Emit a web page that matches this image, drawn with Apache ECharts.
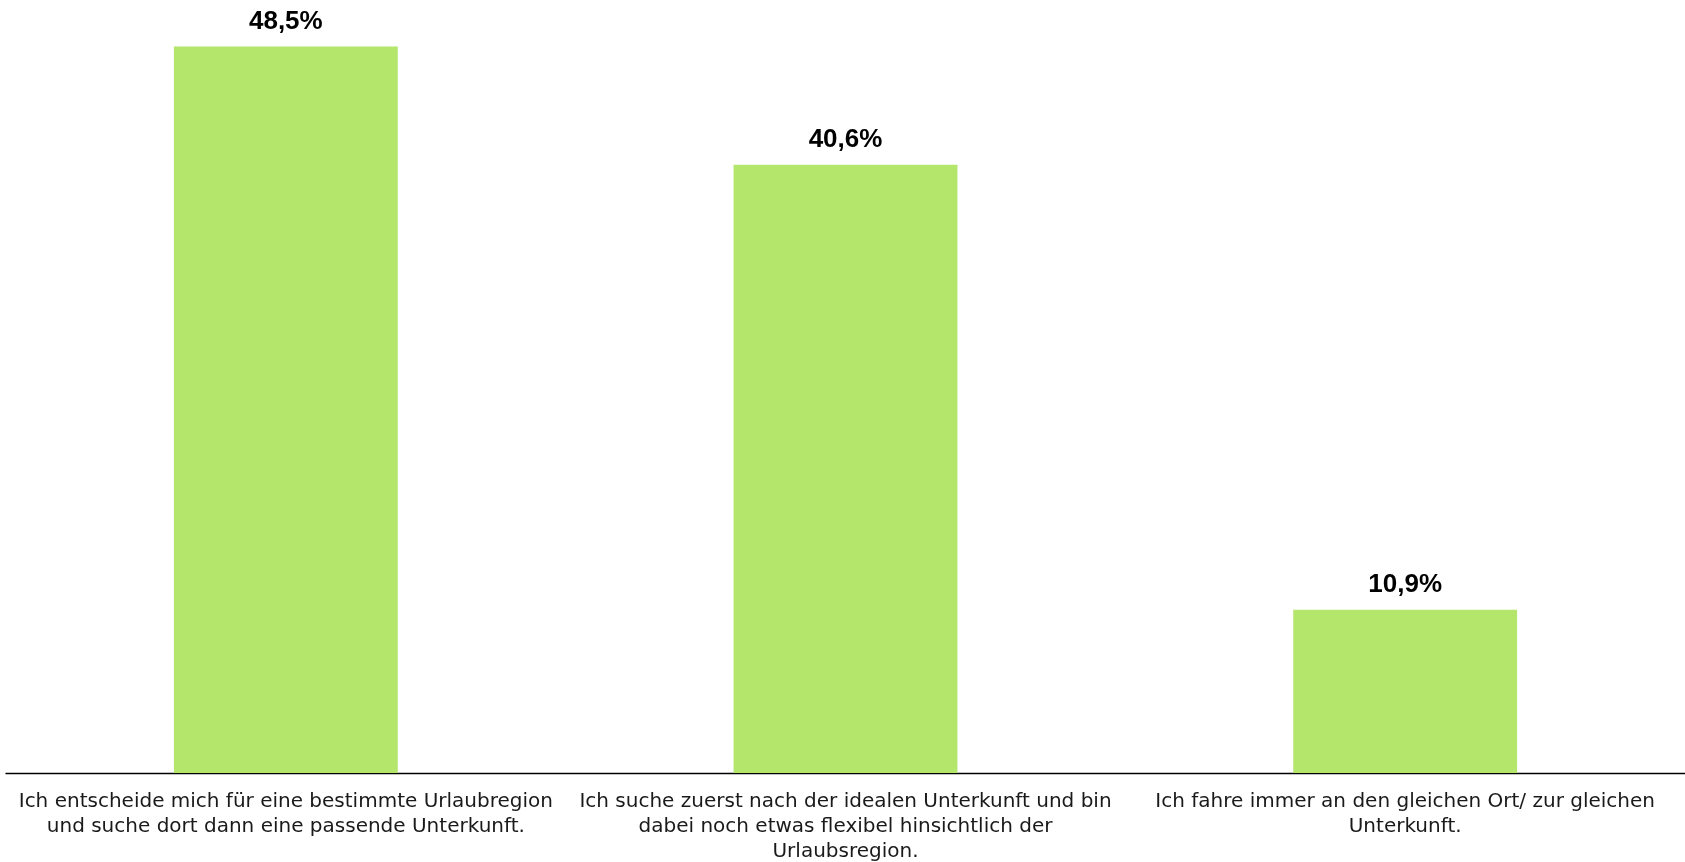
<!DOCTYPE html>
<html>
<head>
<meta charset="utf-8">
<script src="https://cdn.jsdelivr.net/npm/echarts@6/dist/echarts.min.js"></script>
<style>html,body{margin:0;padding:0;background:#fff;}#c{width:1685px;height:862px;}</style>
</head>
<body>
<div id="c"></div>
<script>
const categories = [
  "Ich entscheide mich für eine bestimmte Urlaubregion\nund suche dort dann eine passende Unterkunft.",
  "Ich suche zuerst nach der idealen Unterkunft und bin\ndabei noch etwas flexibel hinsichtlich der\nUrlaubsregion.",
  "Ich fahre immer an den gleichen Ort/ zur gleichen\nUnterkunft."
];
const values = [48.5, 40.6, 10.9];

const chart = echarts.init(document.getElementById('c'));
chart.setOption({
  animation: false,
  grid: { left: 6, right: 0, top: 24, bottom: 89, containLabel: false, outerBoundsMode: 'none' },
  xAxis: {
    type: 'category',
    data: categories,
    axisLine: { show: true, lineStyle: { color: '#000', width: 1.3 } },
    axisTick: { show: false },
    axisLabel: {
      interval: 0,
      color: '#1a1a1a',
      fontFamily: 'DejaVu Sans, sans-serif',
      fontSize: 20,
      lineHeight: 25,
      margin: 16
    }
  },
  yAxis: {
    type: 'value',
    min: 0,
    max: 50,
    show: false
  },
  series: [{
    type: 'bar',
    data: values,
    barWidth: '40%',
    itemStyle: { color: '#b3e66b' },
    label: {
      show: true,
      position: 'top',
      distance: 12,
      color: '#000',
      fontWeight: 'bold',
      fontSize: 26,
      fontFamily: 'Liberation Sans, Arial, sans-serif',
      formatter: p => p.value.toFixed(1).replace('.', ',') + '%'
    }
  }]
});
</script>
</body>
</html>
